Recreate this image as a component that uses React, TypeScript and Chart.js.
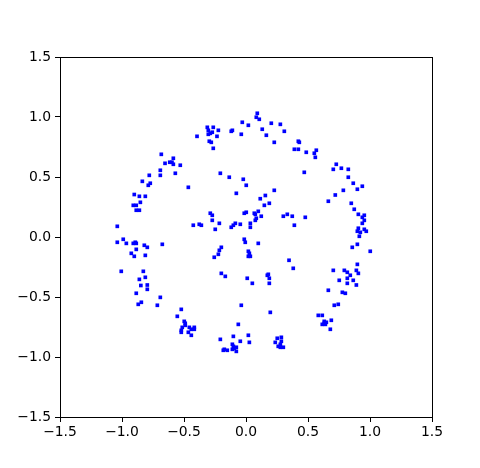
import { useEffect, useRef } from "react";
import { Chart, registerables } from "chart.js";
Chart.register(...registerables);

const xValues = [
  -0.683, -0.586, -0.653, -0.615, -0.597, -0.586, -0.53, -0.691, -0.78, -0.691, -0.57, -0.836, -0.772, -0.788, -0.465, -0.901,
  -0.395, 0.091, 0.083, 0.107, -0.03, 0.019, 0.204, 0.277, 0.131, 0.309, 0.164, 0.228, -0.312, -0.264, -0.304, -0.272, -0.288,
  -0.304, -0.223, -0.234, -0.11, -0.119, -0.038, -0.296, -0.28, -0.264, -0.207, -0.135, -0.022, 0.002, -0.078, 0.228, 0.156,
  0.422, 0.43, 0.39, 0.422, 0.486, 0.567, 0.551, 0.559, 0.47, 0.728, 0.704, 0.769, 0.825, 0.825, 0.865, 0.938, 0.898, 0.785, 0.72,
  -0.86, -0.812, -0.852, -0.909, -0.885, -0.885, -0.86, -1.038, -0.425, -0.99, -1.038, -0.965, -0.909, -0.893, -0.885, -0.82,
  -0.796, -0.675, -0.885, -0.925, -0.901, -0.812, -1.006, -0.828, -0.812, -0.86, -0.848, -0.796,
  0.115, 0.188, 0.148, 0.099, 0.067, 0.075, -0.014, 0.002, 0.123, 0.083, 0.075, -0.288, -0.272, -0.272, -0.215, -0.377, -0.36,
  -0.248, -0.119, -0.102, -0.086, -0.046, 0.035, 0.035, 0.301, 0.333, -0.014, -0.006, 0.099, -0.199, -0.215, -0.223, -0.256,
  0.019, 0.027, 0.019, 0.035, 0.347, -0.199, -0.167, 0.01, 0.051, 0.18, 0.172, 0.188, 0.188,
  0.664, 0.849, 0.873, 0.906, 0.954, 0.938, 0.954, 0.938, 0.906, 0.898, 0.922, 0.954, 0.97, 0.914, 0.373, 0.478, 0.39, 0.898,
  0.857, 1.002, 0.381, 0.898, 0.704, 0.793, 0.817, 0.89, 0.906, 0.841, 0.817, 0.752, 0.865, 0.817, 0.89,
  -0.796, -0.885, -0.691, -0.844, -0.869, -0.715, -0.522, -0.554, -0.498, -0.49, -0.49, -0.514, -0.457, -0.417, -0.417, -0.522,
  -0.522, -0.465, -0.441, -0.441,
  -0.038, 0.196, -0.062, -0.207, -0.102, 0.019, -0.046, 0.027, -0.11, -0.102, -0.094, -0.078, -0.11, -0.078, -0.183, -0.175,
  -0.151, 0.252, 0.285, 0.236, 0.285, 0.26, 0.277, 0.277, 0.301,
  0.664, 0.777, 0.801, 0.712, 0.744, 0.583, 0.615, 0.631, 0.648, 0.631, 0.615, 0.64, 0.688, 0.68,
];

const yValues = [
  0.689, 0.656, 0.614, 0.623, 0.623, 0.606, 0.598, 0.556, 0.514, 0.514, 0.531, 0.464, 0.448, 0.431, 0.414, 0.354,
  0.839, 1.031, 0.998, 0.981, 0.956, 0.931, 0.948, 0.939, 0.898, 0.881, 0.848, 0.789, 0.914, 0.914, 0.889, 0.873, 0.864,
  0.856, 0.889, 0.839, 0.889, 0.881, 0.856, 0.798, 0.789, 0.739, 0.531, 0.498, 0.481, 0.431, 0.364, 0.389, 0.346,
  0.798, 0.789, 0.731, 0.731, 0.706, 0.723, 0.698, 0.664, 0.539, 0.606, 0.564, 0.573, 0.564, 0.498, 0.448, 0.423, 0.398, 0.389, 0.35,
  0.339, 0.339, 0.289, 0.264, 0.264, 0.223, 0.223, 0.089, 0.098, -0.019, -0.044, -0.053, -0.053, -0.044, -0.053, -0.069,
  -0.086, -0.061, -0.103, -0.136, -0.161, -0.153, -0.286, -0.286, -0.336, -0.353, -0.404, -0.4,
  0.319, 0.281, 0.264, 0.214, 0.198, 0.189, 0.198, 0.206, 0.173, 0.156, 0.139, 0.198, 0.181, 0.139, 0.114, 0.106, 0.098,
  0.064, 0.081, 0.098, 0.114, 0.106, 0.114, 0.081, 0.173, 0.189, -0.019, -0.044, -0.053, -0.086, -0.111, -0.144, -0.169,
  -0.119, -0.136, -0.161, -0.161, -0.194, -0.303, -0.328, -0.344, -0.386, -0.311, -0.319, -0.344, -0.386,
  0.298, 0.281, 0.231, 0.189, 0.181, 0.164, 0.139, 0.114, 0.073, 0.048, 0.039, 0.064, 0.048, 0.006, 0.173, 0.164, 0.098, -0.061,
  -0.086, -0.119, -0.261, -0.228, -0.278, -0.278, -0.294, -0.278, -0.303, -0.319, -0.344, -0.361, -0.361, -0.386, -0.4,
  -0.436, -0.469, -0.503, -0.544, -0.561, -0.569, -0.603, -0.661, -0.703, -0.719, -0.736, -0.753, -0.753, -0.753, -0.769, -0.778,
  -0.794, -0.794, -0.769, -0.819,
  -0.569, -0.628, -0.728, -0.853, -0.828, -0.819, -0.869, -0.878, -0.894, -0.911, -0.928, -0.919, -0.936, -0.953, -0.944, -0.936,
  -0.944, -0.844, -0.836, -0.878, -0.869, -0.911, -0.894, -0.919, -0.919,
  -0.444, -0.461, -0.469, -0.569, -0.561, -0.653, -0.653, -0.703, -0.711, -0.719, -0.728, -0.728, -0.694, -0.769,
];

const tickValues = [-1.5, -1.0, -0.5, 0.0, 0.5, 1.0, 1.5];
const axisMin = -1.5;
const axisMax = 1.5;

const fmt = (v: number) => (v < 0 ? "\u2212" : "") + Math.abs(v).toFixed(1);

const framePlugin = {
  id: "frame",
  afterDatasetsDraw(chart: any) {
    const { ctx, chartArea } = chart;
    ctx.save();
    ctx.strokeStyle = "#000";
    ctx.lineWidth = 1;
    ctx.strokeRect(
      Math.round(chartArea.left) + 0.5,
      Math.round(chartArea.top) + 0.5,
      Math.round(chartArea.right - chartArea.left),
      Math.round(chartArea.bottom - chartArea.top)
    );
    ctx.restore();
  },
};

export default function App() {
  const ref = useRef<HTMLCanvasElement | null>(null);
  useEffect(() => {
    if (!ref.current) return;
    const data = xValues.map((x, i) => ({ x, y: yValues[i] }));
    const font = { family: "DejaVu Sans", size: 13.9 };
    const chart = new Chart(ref.current, {
      type: "scatter",
      data: {
        datasets: [
          {
            data,
            pointStyle: "rect",
            pointRadius: 2.6,
            pointBorderWidth: 0,
            backgroundColor: "#0000ff",
            borderColor: "#0000ff",
          },
        ],
      },
      plugins: [framePlugin],
      options: {
        animation: false,
        responsive: false,
        events: [],
        layout: { padding: { left: 0, right: 48, top: 57, bottom: 0 } },
        plugins: { legend: { display: false }, tooltip: { enabled: false } },
        scales: {
          x: {
            type: "linear",
            min: axisMin,
            max: axisMax,
            afterBuildTicks: (s: any) => {
              s.ticks = tickValues.map((v) => ({ value: v }));
            },
            afterFit: (s: any) => {
              s.height = 51;
            },
            ticks: { callback: (v: any) => fmt(Number(v)), color: "#000", font, padding: 2, maxRotation: 0 },
            grid: { drawOnChartArea: false, drawTicks: true, tickLength: 5, color: "#000", tickWidth: 1 },
            border: { display: false },
          },
          y: {
            type: "linear",
            min: axisMin,
            max: axisMax,
            afterBuildTicks: (s: any) => {
              s.ticks = tickValues.map((v) => ({ value: v }));
            },
            afterFit: (s: any) => {
              s.width = 60;
            },
            ticks: { callback: (v: any) => fmt(Number(v)), color: "#000", font, padding: 4 },
            grid: { drawOnChartArea: false, drawTicks: true, tickLength: 5, color: "#000", tickWidth: 1 },
            border: { display: false },
          },
        },
      },
    });
    return () => chart.destroy();
  }, []);
  return (
    <div style={{ position: "fixed", left: 0, top: 0, width: 480, height: 468, background: "#fff" }}>
      <canvas ref={ref} width={480} height={468} style={{ width: 480, height: 468 }} />
    </div>
  );
}
